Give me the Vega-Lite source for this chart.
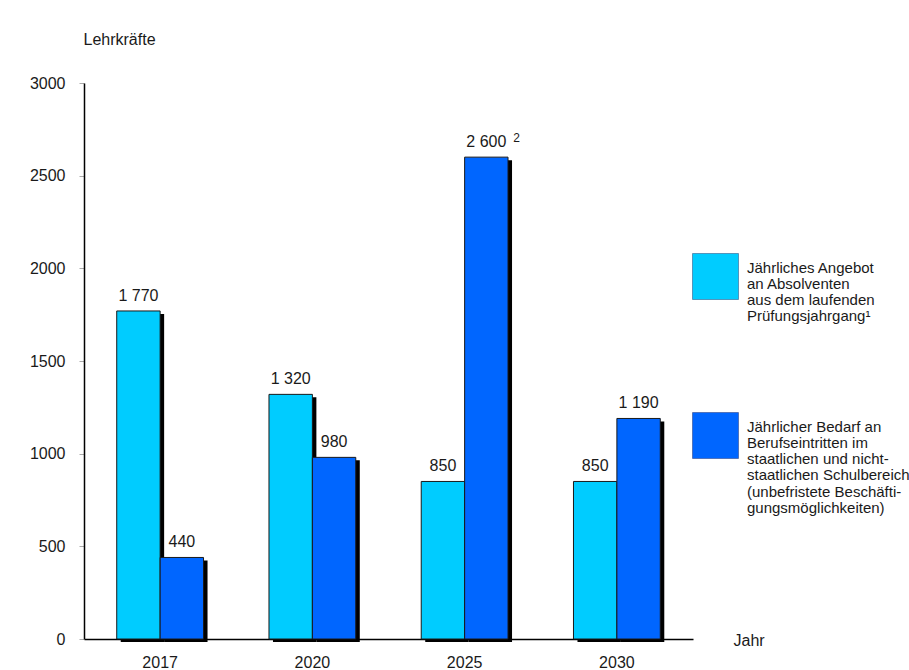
{
  "$schema": "https://vega.github.io/schema/vega-lite/v6.json",
  "autosize": {"type": "none"},
  "padding": {"left": 84, "top": 83, "right": 216, "bottom": 31},
  "width": 609,
  "height": 556,
  "background": "#ffffff",
  "config": {
    "font": "Liberation Sans",
    "view": {"stroke": null},
    "text": {"font": "Liberation Sans", "color": "#1a1a1a"}
  },
  "data": {
    "values": [
      {"jahr": "2017", "serie": "Jährliches Angebot|an Absolventen|aus dem laufenden|Prüfungsjahrgang¹", "wert": 1770, "label": "1 770", "note": ""},
      {"jahr": "2017", "serie": "Jährlicher Bedarf an|Berufseintritten im|staatlichen und nicht-|staatlichen Schulbereich|(unbefristete Beschäfti-|gungsmöglichkeiten)", "wert": 440, "label": "440", "note": ""},
      {"jahr": "2020", "serie": "Jährliches Angebot|an Absolventen|aus dem laufenden|Prüfungsjahrgang¹", "wert": 1320, "label": "1 320", "note": ""},
      {"jahr": "2020", "serie": "Jährlicher Bedarf an|Berufseintritten im|staatlichen und nicht-|staatlichen Schulbereich|(unbefristete Beschäfti-|gungsmöglichkeiten)", "wert": 980, "label": "980", "note": ""},
      {"jahr": "2025", "serie": "Jährliches Angebot|an Absolventen|aus dem laufenden|Prüfungsjahrgang¹", "wert": 850, "label": "850", "note": ""},
      {"jahr": "2025", "serie": "Jährlicher Bedarf an|Berufseintritten im|staatlichen und nicht-|staatlichen Schulbereich|(unbefristete Beschäfti-|gungsmöglichkeiten)", "wert": 2600, "label": "2 600", "note": "2"},
      {"jahr": "2030", "serie": "Jährliches Angebot|an Absolventen|aus dem laufenden|Prüfungsjahrgang¹", "wert": 850, "label": "850", "note": ""},
      {"jahr": "2030", "serie": "Jährlicher Bedarf an|Berufseintritten im|staatlichen und nicht-|staatlichen Schulbereich|(unbefristete Beschäfti-|gungsmöglichkeiten)", "wert": 1190, "label": "1 190", "note": ""}
    ]
  },
  "encoding": {
    "x": {
      "field": "jahr", "type": "nominal",
      "scale": {"paddingInner": 0.43, "paddingOuter": 0.215},
      "axis": {
        "title": "Jahr", "titleX": 649, "titleY": 6, "titleAlign": "left", "titleBaseline": "alphabetic",
        "titleFontSize": 16, "titleFontWeight": "normal", "titleColor": "#1a1a1a",
        "labelAngle": 0, "labelFontSize": 16, "labelColor": "#1a1a1a", "labelBaseline": "alphabetic", "labelPadding": 28,
        "ticks": false, "domainColor": "#000000", "domainWidth": 1.5
      }
    },
    "y": {
      "field": "wert", "type": "quantitative",
      "scale": {"domain": [0, 3000], "nice": false},
      "axis": {
        "title": "Lehrkräfte", "titleAngle": 0, "titleX": -1, "titleY": -39, "titleAlign": "left", "titleBaseline": "alphabetic",
        "titleFontSize": 16, "titleFontWeight": "normal", "titleColor": "#1a1a1a",
        "values": [0, 500, 1000, 1500, 2000, 2500, 3000], "format": "d",
        "labelFontSize": 16, "labelColor": "#1a1a1a", "labelPadding": 14,
        "tickSize": 5, "tickColor": "#aaaaaa", "domainColor": "#000000", "domainWidth": 1.5, "grid": false
      }
    }
  },
  "layer": [
    {
      "mark": {"type": "bar", "fill": "#000000", "yOffset": 3, "y2Offset": 0},
      "encoding": {
        "xOffset": {
          "field": "serie", "type": "nominal",
          "sort": ["Jährliches Angebot|an Absolventen|aus dem laufenden|Prüfungsjahrgang¹", "Jährlicher Bedarf an|Berufseintritten im|staatlichen und nicht-|staatlichen Schulbereich|(unbefristete Beschäfti-|gungsmöglichkeiten)"],
          "scale": {"paddingInner": 0, "paddingOuter": 0, "range": [4, 90.8]}
        }
      }
    },
    {
      "layer": [
        {
          "mark": {"type": "bar", "stroke": "#1a1a1a", "strokeWidth": 1},
          "encoding": {
            "color": {
              "field": "serie", "type": "nominal",
              "sort": ["Jährliches Angebot|an Absolventen|aus dem laufenden|Prüfungsjahrgang¹", "Jährlicher Bedarf an|Berufseintritten im|staatlichen und nicht-|staatlichen Schulbereich|(unbefristete Beschäfti-|gungsmöglichkeiten)"],
              "scale": {"range": ["#00ccff", "#0066ff"]},
              "legend": {
                "title": null, "orient": "none", "legendX": 608, "legendY": 170, "padding": 0,
                "symbolType": "square", "symbolSize": 2116, "symbolStrokeWidth": 1, "symbolStrokeColor": "rgba(0,0,60,0.35)",
                "labelExpr": "split(datum.label, '|')", "labelFontSize": 15, "labelColor": "#1a1a1a", "labelLimit": 400,
                "labelOffset": 8, "labelBaseline": "top", "rowPadding": 85,
                "encode": {"labels": {"update": {"dy": {"value": -16}, "lineHeight": {"value": 16.3}}}}
              }
            }
          }
        },
        {
          "mark": {"type": "text", "baseline": "alphabetic", "dy": -10, "fontSize": 16},
          "encoding": {"text": {"field": "label"}}
        },
        {
          "mark": {"type": "text", "baseline": "alphabetic", "align": "left", "dx": 27, "dy": -15, "fontSize": 12},
          "encoding": {"text": {"field": "note"}}
        }
      ],
      "encoding": {
        "xOffset": {
          "field": "serie", "type": "nominal",
          "sort": ["Jährliches Angebot|an Absolventen|aus dem laufenden|Prüfungsjahrgang¹", "Jährlicher Bedarf an|Berufseintritten im|staatlichen und nicht-|staatlichen Schulbereich|(unbefristete Beschäfti-|gungsmöglichkeiten)"],
          "scale": {"paddingInner": 0, "paddingOuter": 0}
        }
      }
    }
  ],
  "resolve": {"scale": {"xOffset": "independent"}}
}
